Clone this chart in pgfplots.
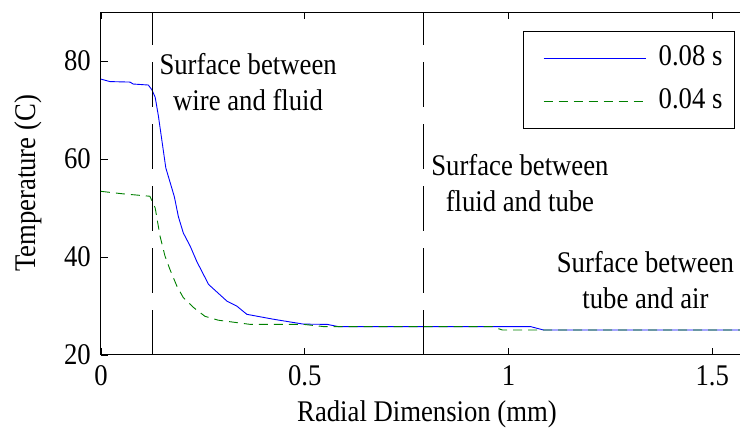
\documentclass[border=0pt]{standalone}
\usepackage{fontspec}
\setmainfont{Liberation Serif}[FakeStretch=0.89]
\usepackage{pgfplots}
\pgfplotsset{compat=1.18}
\definecolor{mblue}{RGB}{0,0,255}
\definecolor{mgreen}{RGB}{0,128,0}
\begin{document}
\fontsize{30}{36}\selectfont
\begin{tikzpicture}
\path[use as bounding box] (-101pt,-76pt) rectangle (639pt,355pt);
\begin{axis}[
  scale only axis,
  width=652pt, height=343pt,
  xmin=0, xmax=1.6, ymin=20, ymax=90,
  xtick={0,0.5,1,1.5}, ytick={20,40,60,80},
  tick align=inside,
  major tick length=7pt,
  xtick pos=both, ytick pos=both,
  axis line style={line width=1pt},
  every tick/.style={black, line width=0.8pt},
  /pgf/number format/assume math mode=true,
  tick label style={font=\fontsize{30}{34}\selectfont},
  label style={font=\fontsize{30}{34}\selectfont},
  ylabel style={yshift=2pt},
  xlabel style={yshift=5pt},
  xlabel={Radial Dimension (mm)},
  ylabel={Temperature (C)},
  legend style={at={(0.9724,0.9455)}, anchor=north east, draw=black, line width=1pt,
    font=\fontsize{30}{34}\selectfont, row sep=0pt, inner xsep=12pt, inner ysep=5.5pt,
    nodes={inner sep=0pt}},
  legend cell align=left,
  legend image code/.code={\draw[#1] (0pt,0pt) -- (102pt,0pt); \path[draw=none,fill=none] (-8pt,-21.5pt) rectangle (115pt,21.5pt);},
]
\addplot[mblue, line width=0.9pt] coordinates {
(0,76.3) (0.022,75.8) (0.071,75.7) (0.079,75.3) (0.116,75.1) (0.125,74.1)
(0.133,72.6) (0.141,68.7) (0.159,58.2) (0.18,52.3) (0.19,48.2) (0.202,44.9)
(0.219,42.2) (0.235,39.1) (0.264,34.4) (0.309,31.0) (0.333,30.0) (0.358,28.3)
(0.423,27.3) (0.497,26.3) (0.555,26.25) (0.582,25.8) (1.054,25.8) (1.086,25.1) (1.6,25.1)
};
\addlegendentry{0.08 s}
\addplot[mgreen, line width=0.9pt, dash pattern=on 9pt off 6pt] coordinates {
(0,53.4) (0.053,52.9) (0.12,52.4) (0.133,50.0) (0.145,44.2) (0.157,40.2)
(0.169,37.5) (0.186,34.1) (0.202,31.7) (0.227,29.7) (0.255,27.9) (0.288,27.1)
(0.325,26.7) (0.366,26.25) (0.497,26.25) (0.546,25.8) (0.96,25.8) (0.985,25.1) (1.6,25.1)
};
\addlegendentry{0.04 s}
\addplot[black, line width=0.9pt, dash pattern=on 44.5pt off 17.5pt, forget plot] coordinates {(0.126,20) (0.126,90)};
\addplot[black, line width=0.9pt, dash pattern=on 44.5pt off 17.5pt, forget plot] coordinates {(0.792,20) (0.792,90)};
\node[align=center, inner sep=0pt, font=\fontsize{30}{36}\selectfont] at (axis cs:0.361,75.7) {Surface between\\ wire and fluid};
\node[align=center, inner sep=0pt, font=\fontsize{30}{36}\selectfont] at (axis cs:1.028,55.0) {Surface between\\ fluid and tube};
\node[align=center, inner sep=0pt, font=\fontsize{30}{36}\selectfont] at (axis cs:1.336,35.2) {Surface between\\ tube and air};
\end{axis}
\end{tikzpicture}
\end{document}
